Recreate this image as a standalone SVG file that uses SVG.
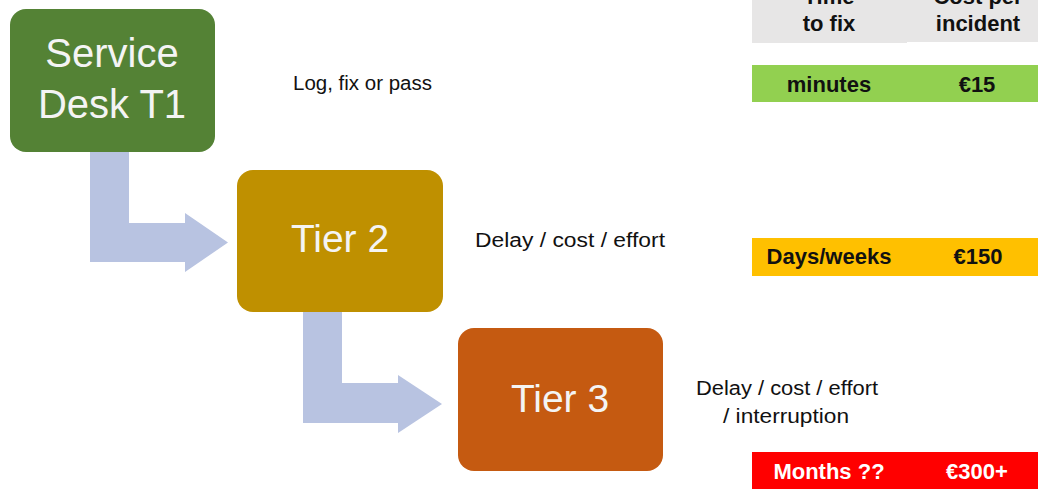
<svg xmlns="http://www.w3.org/2000/svg" width="1038" height="489" viewBox="0 0 1038 489">
<defs>
<style>
.box-text{font-family:"Liberation Sans",Arial,sans-serif;fill:#F4F4F4;text-anchor:middle}
.lbl{font-family:"Liberation Sans",Arial,sans-serif;font-size:20px;fill:#111}
.tbl{font-family:"Liberation Sans",Arial,sans-serif;font-size:22px;font-weight:bold;text-anchor:middle;fill:#111}
.tbl-w{fill:#FFFFFF}
.arrow{fill:#B8C3E1}
</style>
</defs>
<rect width="1038" height="489" fill="#FFFFFF"/>
<g id="connectors">
<path class="arrow" d="M90,152 H129 V223 H185 V213 L228,242.5 L185,272 V262 H90 Z"/>
<path class="arrow" d="M303,312 H342 V383 H398 V375 L442,404 L398,433 V423 H303 Z"/>
</g>
<g id="node-t1">
<rect x="10" y="9" width="205" height="143" rx="16" fill="#548235"/>
<text class="box-text" x="112" y="67" font-size="40">Service</text>
<text class="box-text" x="112" y="118" font-size="40">Desk T1</text>
</g>
<g id="node-t2">
<rect x="237" y="170" width="206" height="142" rx="16" fill="#BF9000"/>
<text class="box-text" x="340" y="252" font-size="39">Tier 2</text>
</g>
<g id="node-t3">
<rect x="458" y="328" width="205" height="143" rx="16" fill="#C55A11"/>
<text class="box-text" x="560" y="412" font-size="39">Tier 3</text>
</g>
<g id="labels">
<text class="lbl" x="293" y="90" textLength="139" lengthAdjust="spacingAndGlyphs">Log, fix or pass</text>
<text class="lbl" x="475" y="247" textLength="190" lengthAdjust="spacingAndGlyphs">Delay / cost / effort</text>
<text class="lbl" x="696" y="395" textLength="182" lengthAdjust="spacingAndGlyphs">Delay / cost / effort</text>
<text class="lbl" x="723" y="423" textLength="126" lengthAdjust="spacingAndGlyphs">/ interruption</text>
</g>
<g id="table">
<rect x="752" y="0" width="155" height="43" fill="#E7E6E6"/>
<rect x="907" y="0" width="131" height="42" fill="#E7E6E6"/>
<text class="tbl" x="829" y="4">Time</text>
<text class="tbl" x="829" y="31">to fix</text>
<text class="tbl" x="978" y="4">Cost per</text>
<text class="tbl" x="978" y="31">incident</text>
<rect x="752" y="65" width="286" height="37" fill="#92D050"/>
<text class="tbl" x="829" y="92">minutes</text>
<text class="tbl" x="977" y="92">€15</text>
<rect x="752" y="238" width="286" height="38" fill="#FFC000"/>
<text class="tbl" x="829" y="264">Days/weeks</text>
<text class="tbl" x="978" y="264">€150</text>
<rect x="752" y="452" width="286" height="37" fill="#FF0000"/>
<text class="tbl tbl-w" x="829" y="479">Months ??</text>
<text class="tbl tbl-w" x="977" y="479">€300+</text>
</g>
</svg>
